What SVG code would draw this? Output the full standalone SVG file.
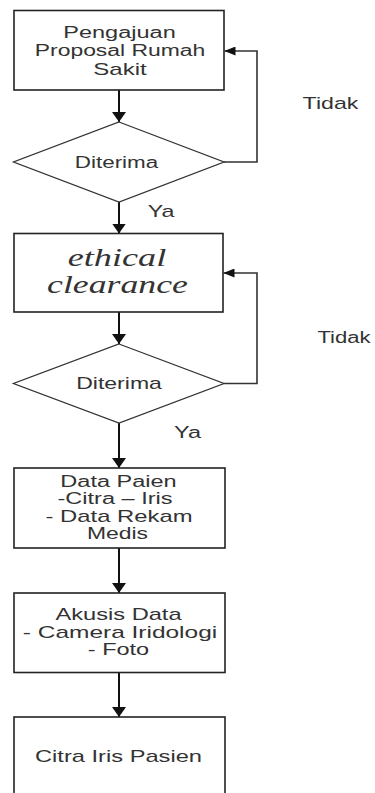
<svg xmlns="http://www.w3.org/2000/svg" width="375" height="793" viewBox="0 0 375 793">
  <defs>
    <!-- arrowheads: down-pointing ones are wider, side ones narrower -->
    <marker id="arrV" viewBox="0 0 10 14" refX="10" refY="7" markerWidth="10" markerHeight="14" markerUnits="userSpaceOnUse" orient="auto">
      <path d="M0,0 L10,7 L0,14 z" fill="#111"/>
    </marker>
    <marker id="arrH" viewBox="0 0 11 9" refX="11" refY="4.5" markerWidth="11" markerHeight="9" markerUnits="userSpaceOnUse" orient="auto">
      <path d="M0,0 L11,4.5 L0,9 z" fill="#111"/>
    </marker>
  </defs>
  <style>
    .box { fill: #fff; stroke: #222; stroke-width: 1.6; }
    .dec { fill: #fff; stroke: #333; stroke-width: 1.3; }
    .t { font-family: "Liberation Sans", Arial, sans-serif; font-size: 16px; fill: #333; text-anchor: middle; }
    .s { font-family: "Liberation Serif", "Times New Roman", serif; font-style: italic; font-size: 25px; fill: #333; text-anchor: middle; }
    .v { fill: none; stroke: #111; stroke-width: 2; }
    .fb { fill: none; stroke: #333; stroke-width: 1.6; }
  </style>
  <rect width="375" height="793" fill="#fff"/>

  <g id="connectors">
    <path class="v" d="M119,90 V122" marker-end="url(#arrV)"/>
    <path class="v" d="M119,202 V233.5" marker-end="url(#arrV)"/>
    <path class="v" d="M119,312 V344" marker-end="url(#arrV)"/>
    <path class="v" d="M119,423 V468" marker-end="url(#arrV)"/>
    <path class="v" d="M119,548 V593" marker-end="url(#arrV)"/>
    <path class="v" d="M119,672.5 V717" marker-end="url(#arrV)"/>
    <path class="fb" d="M224,162 H257 V51 H224.5" marker-end="url(#arrH)"/>
    <path class="fb" d="M224,383.5 H257 V273 H223.5" marker-end="url(#arrH)"/>
    <text class="t" transform="translate(330.5 109) scale(1.45 1)">Tidak</text>
    <text class="t" transform="translate(161 217) scale(1.45 1)">Ya</text>
    <text class="t" transform="translate(344 343) scale(1.38 1)">Tidak</text>
    <text class="t" transform="translate(187.5 438) scale(1.47 1)">Ya</text>
  </g>

  <g id="proposal">
    <rect class="box" x="14" y="10.5" width="210" height="79.5"/>
    <text class="t" transform="translate(119.5 38) scale(1.47 1)">Pengajuan</text>
    <text class="t" transform="translate(120 56) scale(1.43 1)">Proposal Rumah</text>
    <text class="t" transform="translate(120 74.5) scale(1.5 1)">Sakit</text>
  </g>

  <g id="diterima1">
    <polygon class="dec" points="119,122 224,162 119,202 13.5,162"/>
    <text class="t" transform="translate(116.5 168) scale(1.4 1)">Diterima</text>
  </g>

  <g id="ethical">
    <rect class="box" x="14" y="233.5" width="209" height="78.5"/>
    <text class="s" transform="translate(117 266) scale(1.45 1)">ethical</text>
    <text class="s" transform="translate(117.5 293) scale(1.43 1)">clearance</text>
  </g>

  <g id="diterima2">
    <polygon class="dec" points="119,344 224,383.5 119,423 13.5,383.5"/>
    <text class="t" transform="translate(119 388.5) scale(1.44 1)">Diterima</text>
  </g>

  <g id="data-pasien">
    <rect class="box" x="14" y="468" width="211" height="80"/>
    <text class="t" transform="translate(118.5 487) scale(1.47 1)">Data Paien</text>
    <text class="t" transform="translate(115 503.5) scale(1.47 1)">-Citra – Iris</text>
    <text class="t" transform="translate(119 522) scale(1.49 1)">- Data Rekam</text>
    <text class="t" transform="translate(117.5 539) scale(1.43 1)">Medis</text>
  </g>

  <g id="akuisisi">
    <rect class="box" x="14" y="593" width="211" height="79.5"/>
    <text class="t" transform="translate(118.5 620) scale(1.48 1)">Akusis Data</text>
    <text class="t" transform="translate(120 637.5) scale(1.53 1)">- Camera Iridologi</text>
    <text class="t" transform="translate(118.5 655) scale(1.47 1)">- Foto</text>
  </g>

  <g id="citra-iris">
    <rect class="box" x="14" y="717" width="211" height="90"/>
    <text class="t" transform="translate(118.5 762) scale(1.48 1)">Citra Iris Pasien</text>
  </g>
</svg>
